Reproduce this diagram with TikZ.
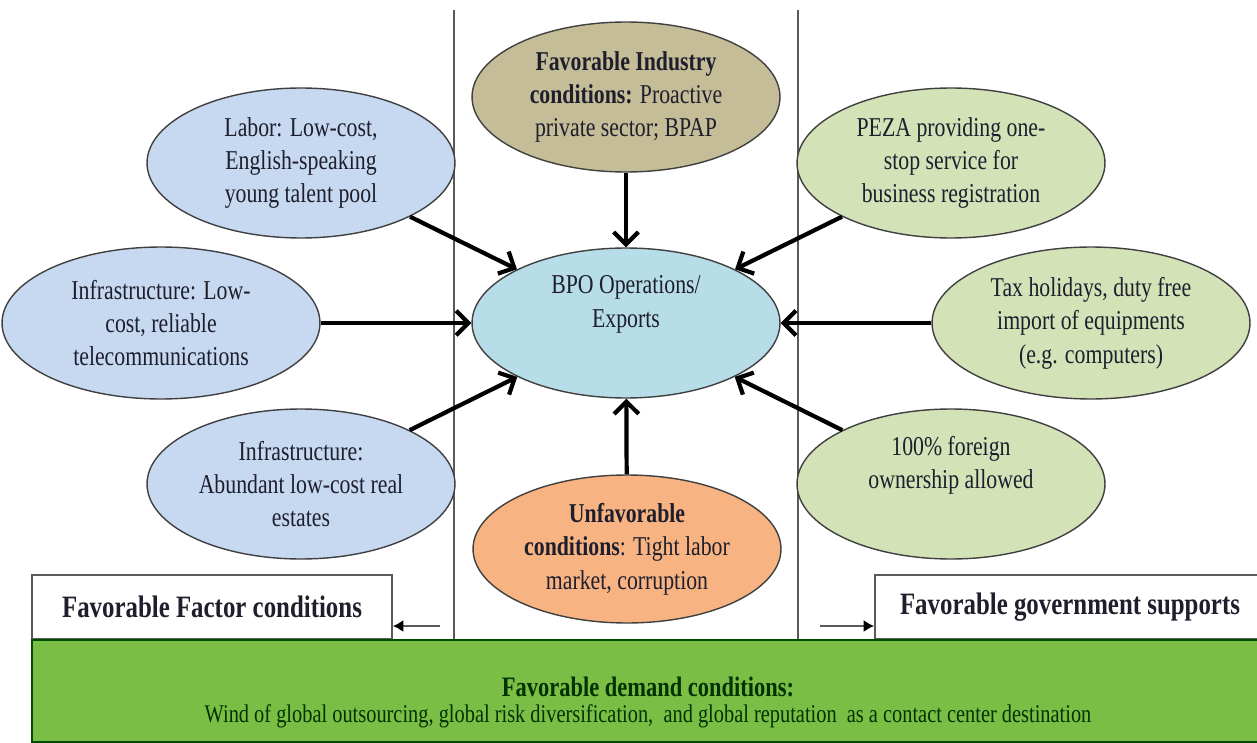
\documentclass[tikz,border=0pt]{standalone}
\usepackage{fontspec}
\setmainfont{Liberation Serif}[FakeStretch=0.8]
\usetikzlibrary{shapes.geometric,arrows.meta}
\definecolor{blueF}{RGB}{198,217,241}
\definecolor{bpoF}{RGB}{183,221,232}
\definecolor{khakiF}{RGB}{196,189,151}
\definecolor{orangeF}{RGB}{247,180,130}
\definecolor{greenF}{RGB}{212,226,184}
\definecolor{demandF}{RGB}{122,190,70}
\definecolor{txt}{RGB}{30,30,45}
\definecolor{sep}{RGB}{90,90,90}
\begin{document}
\begin{tikzpicture}[x=0.02cm,y=-0.02cm,
  ell/.style={ellipse,draw=black!75,line width=0.8pt,inner sep=0pt,align=center,
    font=\fontsize{15.5}{19}\selectfont,text=txt},
  small/.style={ell,minimum width=6.16cm,minimum height=3cm},
  wide/.style={ell,minimum width=6.36cm,minimum height=3.04cm},
  bigarrow/.style={line width=2.4pt,-{Straight Barb[length=7pt,width=14pt]}},
  minarrow/.style={line width=1.3pt,draw=sep,-{Latex[length=6pt,width=7pt,color=black]}},
  boxlab/.style={draw=sep,line width=1pt,fill=white,inner sep=0pt,
    font=\fontsize{17.7}{20}\selectfont\bfseries,text=txt},
  sepline/.style={draw=sep,line width=0.9pt},
  demtxt/.style={inner sep=0pt,text=black!80!green}
  ]
\useasboundingbox (0,0) rectangle (1257,743);
\fill[white] (0,0) rectangle (1257,743);
% separators
\draw[sepline] (454,10) -- (454,640);
\draw[sepline] (798,10) -- (798,640);
% ellipses
\node[small,fill=blueF] (labor) at (301,163) {Labor: Low-cost,\\English-speaking\\young talent pool};
\node[wide,fill=blueF] (infra1) at (161,323) {Infrastructure: Low-\\cost, reliable\\telecommunications};
\node[small,fill=blueF] (infra2) at (301,484) {Infrastructure:\\Abundant low-cost real\\estates};
\node[small,fill=khakiF] (ind) at (626,97) {\textbf{Favorable Industry}\\\textbf{conditions:} Proactive\\private sector; BPAP};
\node[small,fill=bpoF] (bpo) at (626,323) {BPO Operations/\\Exports\\\strut};
\node[small,fill=orangeF,minimum height=2.96cm] (unf) at (627,549) {\textbf{Unfavorable}\\\textbf{conditions}: Tight labor\\market, corruption};
\node[small,fill=greenF] (peza) at (951,163) {PEZA providing one-\\stop service for\\business registration};
\node[wide,fill=greenF] (tax) at (1091,323) {Tax holidays, duty free\\import of equipments\\(e.g. computers)};
\node[small,fill=greenF] (own) at (951,484) {100\% foreign\\ownership allowed\\\strut};
% arrows
\draw[bigarrow] (labor) -- (bpo);
\draw[bigarrow] (infra1) -- (bpo);
\draw[bigarrow] (infra2) -- (bpo);
\draw[bigarrow] (ind) -- (bpo);
\draw[bigarrow] (unf) -- (bpo);
\draw[bigarrow] (peza) -- (bpo);
\draw[bigarrow] (tax) -- (bpo);
\draw[bigarrow] (own) -- (bpo);
% bottom boxes
\node[boxlab,minimum width=7.2cm,minimum height=1.28cm] (fac) at (212,607) {Favorable Factor conditions};
\node[boxlab,minimum width=7.8cm,minimum height=1.28cm] (gov) at (1070,607) {Favorable government supports};
\coordinate (la) at (440,626);
\coordinate (ra) at (820,626);
\draw[minarrow] (la) -- (la -| fac.east);
\draw[minarrow] (ra) -- (ra -| gov.west);
% demand box
\node[draw=black!70!green,line width=1pt,fill=demandF,minimum width=24.7cm,minimum height=2.04cm,inner sep=0pt] (demand) at (649,691) {};
\node[demtxt,font=\fontsize{16}{20}\selectfont\bfseries] (demtitle) at (648,687) {Favorable demand conditions:};
\node[demtxt,font=\fontsize{14.5}{18}\selectfont] (demtext) at (648,716)
  {Wind of global outsourcing, global risk diversification,\ \ and global reputation\ \ as a contact center destination};
\end{tikzpicture}
\end{document}
